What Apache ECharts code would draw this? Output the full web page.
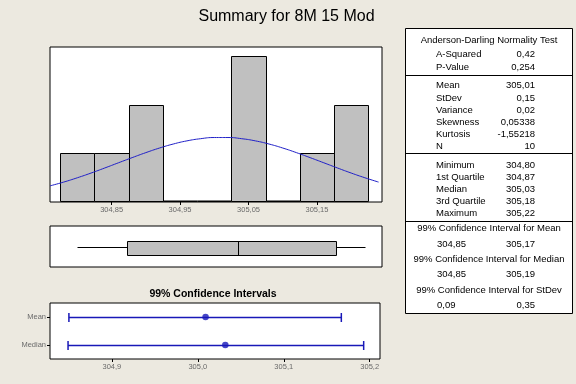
<!DOCTYPE html>
<html>
<head>
<meta charset="utf-8">
<script src="https://cdn.jsdelivr.net/npm/echarts@6/dist/echarts.min.js"></script>
<style>
html,body{margin:0;padding:0;background:#ECE9E0;}
#chart{width:576px;height:384px;}
</style>
</head>
<body>
<div id="chart"></div>
<script>
// ---------- data ----------
const chartTitle = 'Summary for 8M 15 Mod';
const histBinCenters = [304.80, 304.85, 304.90, 304.95, 305.00, 305.05, 305.10, 305.15, 305.20];
const histCounts = [1, 1, 2, 0, 0, 3, 0, 1, 2];
const binWidth = 0.05;
const histTicks = [304.85, 304.95, 305.05, 305.15];
const fitX = [304.76, 304.78, 304.80, 304.82, 304.84, 304.86, 304.88, 304.90, 304.92, 304.94, 304.96, 304.98, 305.00,
              305.02, 305.04, 305.06, 305.08, 305.10, 305.12, 305.14, 305.16, 305.18, 305.20, 305.22, 305.24];
const fitY = [0.332, 0.410, 0.499, 0.596, 0.700, 0.807, 0.913, 1.016, 1.111, 1.193, 1.258, 1.303, 1.327,
              1.327, 1.303, 1.258, 1.193, 1.111, 1.016, 0.913, 0.807, 0.700, 0.596, 0.499, 0.410];
const boxStats = [304.80, 304.873, 305.034, 305.178, 305.22]; // min, Q1, median, Q3, max
const ciTitle = '99% Confidence Intervals';
const ciNames = ['Mean', 'Median'];
const ciLower = [304.850, 304.849];
const ciUpper = [305.167, 305.193];
const ciCenter = [305.009, 305.032];
const ciTicks = [304.9, 305.0, 305.1, 305.2];

const adHeader = 'Anderson-Darling Normality Test';
const adLabels = ['A-Squared', 'P-Value'];
const adValues = ['0,42', '0,254'];
const descLabels = ['Mean', 'StDev', 'Variance', 'Skewness', 'Kurtosis', 'N'];
const descValues = ['305,01', '0,15', '0,02', '0,05338', '-1,55218', '10'];
const quartLabels = ['Minimum', '1st Quartile', 'Median', '3rd Quartile', 'Maximum'];
const quartValues = ['304,80', '304,87', '305,03', '305,18', '305,22'];
const ciTableTitles = ['99% Confidence Interval for Mean', '99% Confidence Interval for Median', '99% Confidence Interval for StDev'];
const ciTableLow = ['304,85', '304,85', '0,09'];
const ciTableHigh = ['305,17', '305,19', '0,35'];

// ---------- styling ----------
const FONT = 'Liberation Sans, Arial, sans-serif';
const tableFont = 9.5;
const gray = '#6A6A6A';
const blue = '#1818B8';

const chart = echarts.init(document.getElementById('chart'), null, {renderer: 'canvas'});

// ---------- table graphics ----------
const graphics = [];
function txt(x, y, s, align, size, weight) {
  graphics.push({type: 'text', x: x, y: y, silent: true,
    style: {text: s, fill: '#000', font: (weight || 'normal') + ' ' + (size || tableFont) + 'px ' + FONT,
      textAlign: align || 'left', textVerticalAlign: 'middle'}});
}
function hline(y, x1, x2) {
  graphics.push({type: 'line', silent: true, shape: {x1: x1, y1: y, x2: x2, y2: y}, style: {stroke: '#000', lineWidth: 1}});
}
const tL = 405.5, tR = 572.5, tT = 28.5, tB = 313.5;
graphics.push({type: 'rect', silent: true, z: -1, shape: {x: tL, y: tT, width: tR - tL, height: tB - tT},
  style: {fill: '#fff', stroke: '#000', lineWidth: 1}});
const tMid = (tL + tR) / 2;
const labX = 436, valX = 535;
txt(tMid, 40, adHeader, 'center');
adLabels.forEach((l, i) => { txt(labX, 54.3 + i * 13.4, l); txt(valX, 54.3 + i * 13.4, adValues[i], 'right'); });
hline(75.5, tL, tR);
descLabels.forEach((l, i) => { txt(labX, 85.7 + i * 12.2, l); txt(valX, 85.7 + i * 12.2, descValues[i], 'right'); });
hline(153.5, tL, tR);
quartLabels.forEach((l, i) => { txt(labX, 165 + i * 12.2, l); txt(valX, 165 + i * 12.2, quartValues[i], 'right'); });
hline(221.5, tL, tR);
ciTableTitles.forEach((l, i) => {
  const y = 228.5 + i * 30.8;
  txt(tMid, y, l, 'center');
  txt(437, y + 15.5, ciTableLow[i]);
  txt(valX, y + 15.5, ciTableHigh[i], 'right');
});
// titles
txt(286.5, 17, chartTitle, 'center', 16);
txt(213, 294.5, ciTitle, 'center', 10.5, 'bold');

// ---------- chart option ----------
const histMin = 304.76, histMax = 305.245;
const ciMin = 304.828, ciMax = 305.212;

const option = {
  backgroundColor: '#ECE9E0',
  animation: false,
  textStyle: {fontFamily: FONT},
  grid: [
    {left: 50, top: 47, width: 332, height: 155, show: true, backgroundColor: '#fff', borderColor: '#000', borderWidth: 1},
    {left: 50, top: 226, width: 332, height: 41, show: true, backgroundColor: '#fff', borderColor: '#000', borderWidth: 1},
    {left: 50, top: 303, width: 330, height: 56, show: true, backgroundColor: '#fff', borderColor: '#000', borderWidth: 1}
  ],
  xAxis: [
    {gridIndex: 0, type: 'value', min: histMin, max: histMax,
      axisLine: {show: false}, splitLine: {show: false},
      axisTick: {show: true, customValues: histTicks, length: 3, lineStyle: {color: '#000'}},
      axisLabel: {show: true, customValues: histTicks, color: gray, fontSize: 7.5, margin: 4,
        formatter: v => Number(v).toFixed(2).replace('.', ',')}},
    {gridIndex: 1, type: 'value', min: histMin, max: histMax, show: false, splitLine: {show: false}},
    {gridIndex: 2, type: 'value', min: ciMin, max: ciMax,
      axisLine: {show: false}, splitLine: {show: false},
      axisTick: {show: true, customValues: ciTicks, length: 3, lineStyle: {color: '#000'}},
      axisLabel: {show: true, customValues: ciTicks, color: gray, fontSize: 7.5, margin: 4,
        formatter: v => Number(v).toFixed(1).replace('.', ',')}}
  ],
  yAxis: [
    {gridIndex: 0, type: 'value', min: 0, max: 3.19, show: false, splitLine: {show: false}},
    {gridIndex: 1, type: 'category', data: [''], show: false},
    {gridIndex: 2, type: 'category', data: ciNames, inverse: true,
      axisLine: {show: false}, splitLine: {show: false},
      axisTick: {show: true, alignWithLabel: true, length: 3, lineStyle: {color: '#000'}},
      axisLabel: {color: gray, fontSize: 7.5, margin: 4}}
  ],
  series: [
    {
      type: 'custom', xAxisIndex: 0, yAxisIndex: 0, clip: true,
      data: histBinCenters.map((c, i) => [c, histCounts[i]]),
      renderItem: function (params, api) {
        const c = api.value(0), n = api.value(1);
        const p0 = api.coord([c - binWidth / 2, n]);
        const p1 = api.coord([c + binWidth / 2, 0]);
        const x0 = Math.round(p0[0]) + 0.5, x1 = Math.round(p1[0]) + 0.5;
        const y0 = Math.round(p0[1]) + 0.5, y1 = Math.round(p1[1]) - 0.5;
        if (n === 0) {
          return {type: 'line', shape: {x1: x0, y1: y1, x2: x1, y2: y1}, style: {stroke: '#000', lineWidth: 2}};
        }
        return {type: 'rect', shape: {x: x0, y: y0, width: x1 - x0, height: y1 - y0},
          style: {fill: '#C0C0C0', stroke: '#000', lineWidth: 1}};
      }
    },
    {
      type: 'line', xAxisIndex: 0, yAxisIndex: 0, smooth: true, showSymbol: false, symbol: 'none',
      data: fitX.map((x, i) => [x, fitY[i]]),
      lineStyle: {color: '#2020C8', width: 1}, z: 5
    },
    {
      type: 'custom', xAxisIndex: 1, yAxisIndex: 1,
      data: [boxStats.concat([0])],
      renderItem: function (params, api) {
        const cat = api.value(5);
        const y = Math.round(api.coord([api.value(0), cat])[1]) + 0.5;
        const h = api.size([0, 1])[1] * 0.33;
        const xs = [0, 1, 2, 3, 4].map(k => Math.round(api.coord([api.value(k), cat])[0]) + 0.5);
        const st = {stroke: '#000', lineWidth: 1};
        return {type: 'group', children: [
          {type: 'line', shape: {x1: xs[0], y1: y, x2: xs[1], y2: y}, style: st},
          {type: 'line', shape: {x1: xs[3], y1: y, x2: xs[4], y2: y}, style: st},
          {type: 'rect', shape: {x: xs[1], y: Math.round(y - h / 2) + 0.5, width: xs[3] - xs[1], height: Math.round(h)},
            style: {fill: '#C0C0C0', stroke: '#000', lineWidth: 1}},
          {type: 'line', shape: {x1: xs[2], y1: Math.round(y - h / 2) + 0.5, x2: xs[2], y2: Math.round(y - h / 2) + 0.5 + Math.round(h)}, style: st}
        ]};
      }
    },
    {
      type: 'custom', xAxisIndex: 2, yAxisIndex: 2,
      data: ciNames.map((n, i) => [i, ciLower[i], ciUpper[i]]),
      renderItem: function (params, api) {
        const cat = api.value(0);
        const pL = api.coord([api.value(1), cat]);
        const pU = api.coord([api.value(2), cat]);
        const y = Math.round(pL[1]) + 0.5;
        const hc = api.size([0, 1])[1] * 0.16;
        const st = {stroke: blue, lineWidth: 1.5};
        return {type: 'group', children: [
          {type: 'line', shape: {x1: pL[0], y1: y, x2: pU[0], y2: y}, style: st},
          {type: 'line', shape: {x1: pL[0], y1: y - hc, x2: pL[0], y2: y + hc}, style: st},
          {type: 'line', shape: {x1: pU[0], y1: y - hc, x2: pU[0], y2: y + hc}, style: st}
        ]};
      }
    },
    {
      type: 'scatter', xAxisIndex: 2, yAxisIndex: 2, symbol: 'circle', symbolSize: 6.5,
      data: ciNames.map((n, i) => [ciCenter[i], n]),
      itemStyle: {color: blue}, z: 5
    }
  ],
  graphic: graphics
};
chart.setOption(option);
</script>
</body>
</html>
